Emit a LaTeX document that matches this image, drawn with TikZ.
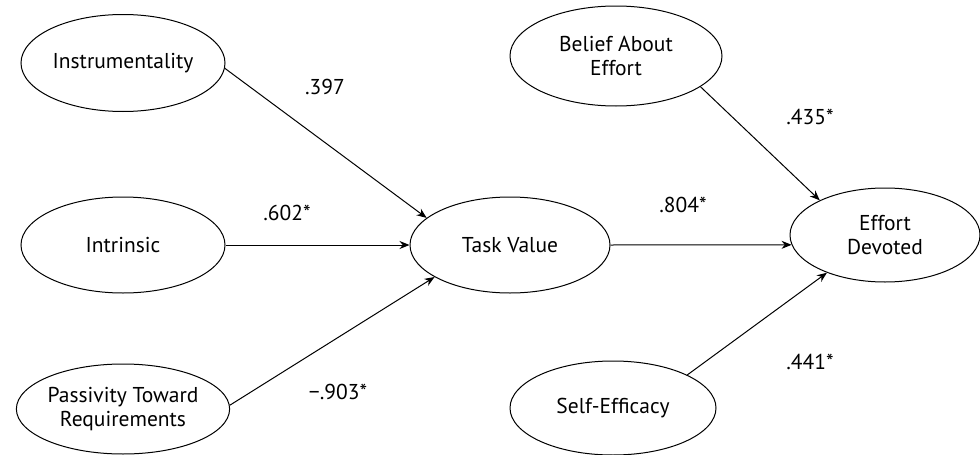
\documentclass[tikz,border=0pt]{standalone}
\usepackage{fontspec}
\setmainfont{PT Sans}
\usetikzlibrary{shapes.geometric,arrows.meta}
\tikzset{
  var/.style={draw, ellipse, line width=1pt, inner sep=0pt, align=center,
    font=\fontsize{21.5}{24}\selectfont},
  path/.style={draw, line width=1pt, -{Stealth[length=10pt,width=8pt]}},
  coef/.style={font=\fontsize{21.5}{24}\selectfont}
}
\begin{document}
\begin{tikzpicture}[x=1pt,y=-1pt]
\useasboundingbox (0,0) rectangle (980,455);
\node[var, minimum width=204, minimum height=97] (ins) at (123,63) {Instrumentality};
\node[var, minimum width=204, minimum height=96] (intr) at (123,245) {Intrinsic};
\node[var, minimum width=204, minimum height=90] (pas) at (123,409) {Passivity Toward\\Requirements};
\node[var, minimum width=200, minimum height=96] (tv) at (510,245) {Task Value};
\node[var, minimum width=212, minimum height=100] (bel) at (616,56) {Belief About\\Effort};
\node[var, minimum width=190, minimum height=94] (eff) at (885,235) {Effort\\Devoted};
\node[var, minimum width=206, minimum height=94] (se) at (613,408) {Self-Efficacy};

\draw[path] (ins.-3) -- (tv.162);
\draw[path] (intr.east) -- (tv.west);
\draw[path] (pas.2) -- (tv.203);
\draw[path] (tv.east) -- (eff.186);
\draw[path] (bel.-20) -- (eff.152.4);
\draw[path] (se.24.6) -- (eff.213);

\node[coef] (c1) at (325,87) {.397};
\node[coef] (c2) at (287,213) {.602*};
\node[coef] (c3) at (338,392) {\char"2212.903*};
\node[coef] (c4) at (683,205) {.804*};
\node[coef] (c5) at (810,117) {.435*};
\node[coef] (c6) at (810,362) {.441*};
\end{tikzpicture}
\end{document}
